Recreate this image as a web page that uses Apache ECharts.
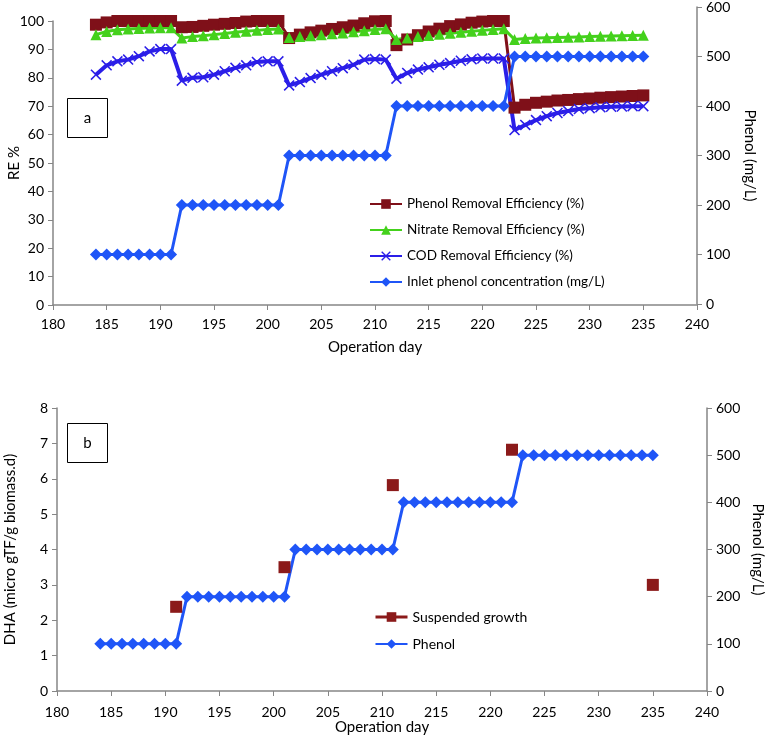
<!DOCTYPE html>
<html>
<head>
<meta charset="utf-8">
<script src="https://cdn.jsdelivr.net/npm/echarts@6/dist/echarts.min.js"></script>
<style>
  html, body { margin: 0; padding: 0; background: #fff; }
  #main { width: 767px; height: 736px; }
</style>
</head>
<body>
<div id="main"></div>
<script>
// 运行天数
var days = [184, 185, 186, 187, 188, 189, 190, 191,
    192, 193, 194, 195, 196, 197, 198, 199, 200, 201,
    202, 203, 204, 205, 206, 207, 208, 209, 210, 211,
    212, 213, 214, 215, 216, 217, 218, 219, 220, 221, 222,
    223, 224, 225, 226, 227, 228, 229, 230, 231, 232, 233, 234, 235];

// 图 a
var phenolRE = [98.7, 99.5, 100, 100, 100, 100, 100, 100,
    97.8, 97.9, 98.3, 98.7, 99.0, 99.3, 99.8, 100, 100, 100,
    94.0, 95.2, 96.0, 96.6, 97.2, 97.8, 98.4, 99.2, 99.9, 100,
    91.5, 93.5, 95.0, 96.3, 97.3, 98.2, 98.8, 99.4, 99.8, 100, 100,
    69.5, 70.5, 71.2, 71.6, 72.0, 72.2, 72.5, 72.7, 73.0, 73.2, 73.4, 73.6, 73.8];
var nitrateRE = [95.2, 96.3, 96.9, 97.2, 97.4, 97.5, 97.6, 97.6,
    94.0, 94.5, 94.8, 95.2, 95.6, 96.0, 96.4, 96.7, 97.0, 97.2,
    94.2, 94.5, 94.8, 95.2, 95.5, 95.8, 96.2, 96.6, 97.0, 97.3,
    93.5, 94.0, 94.5, 94.9, 95.3, 95.7, 96.0, 96.4, 96.7, 97.0, 97.3,
    93.5, 93.8, 94.0, 94.1, 94.2, 94.3, 94.4, 94.5, 94.6, 94.7, 94.8, 94.9, 95.0];
var codRE = [81.1, 84.4, 85.8, 86.4, 87.6, 89.3, 90.1, 90.1,
    79.0, 80.0, 80.2, 81.1, 82.3, 83.5, 84.4, 85.6, 85.8, 85.8,
    77.3, 78.5, 79.9, 81.1, 82.3, 83.4, 84.6, 86.4, 86.6, 86.4,
    79.7, 81.7, 82.9, 83.7, 84.6, 85.2, 86.0, 86.5, 86.8, 86.8, 86.8,
    61.6, 63.4, 65.1, 66.5, 67.6, 68.3, 69.0, 69.3, 69.6, 69.8, 69.9, 70.0, 70.0];
var inletPhenol = [100, 100, 100, 100, 100, 100, 100, 100,
    200, 200, 200, 200, 200, 200, 200, 200, 200, 200,
    300, 300, 300, 300, 300, 300, 300, 300, 300, 300,
    400, 400, 400, 400, 400, 400, 400, 400, 400, 400, 400,
    500, 500, 500, 500, 500, 500, 500, 500, 500, 500, 500, 500, 500];

// 图 b
var dhaDays = [191, 201, 211, 222, 235];
var dhaSuspended = [2.38, 3.5, 5.82, 6.82, 3.0];

function pairs(xs, ys) {
    return xs.map(function (x, i) { return [x, ys[i]]; });
}

var FONT = 'Lato';
var axisGray = '#868686';
var xMark = 'path://M0,1L1,0L5,4L9,0L10,1L6,5L10,9L9,10L5,6L1,10L0,9L4,5Z';

function xAx(idx, show, gap, margin) {
    return {
        type: 'value', gridIndex: idx, min: 180, max: 240, interval: 5, show: show,
        name: 'Operation day', nameLocation: 'middle', nameGap: gap, nameMoveOverlap: false,
        nameTextStyle: { color: '#000', fontSize: 15, fontFamily: FONT },
        axisLine: { lineStyle: { color: axisGray, width: 1.5 } },
        axisTick: { show: true, length: 5, lineStyle: { color: axisGray } },
        axisLabel: { color: '#000', fontSize: 14, fontFamily: FONT, margin: margin },
        splitLine: { show: false }
    };
}

function yAx(idx, pos, max, interval, name, gap, rot) {
    return {
        type: 'value', gridIndex: idx, position: pos, min: 0, max: max, interval: interval,
        name: name, nameLocation: 'middle', nameGap: gap, nameRotate: rot, nameMoveOverlap: false,
        nameTextStyle: { color: '#000', fontSize: 15, fontFamily: FONT },
        axisLine: { show: true, lineStyle: { color: axisGray, width: 1.5 } },
        axisTick: { show: true, length: 5, lineStyle: { color: axisGray } },
        axisLabel: { color: '#000', fontSize: 14, fontFamily: FONT, margin: 9 },
        splitLine: { show: false }
    };
}

var myChart = echarts.init(document.getElementById('main'));

var option = {
    animation: false,
    textStyle: { fontFamily: FONT },
    grid: [
        { left: 53, right: 70, top: 21, bottom: 431, outerBoundsMode: 'none', containLabel: false },
        { left: 57, right: 60, top: 408, bottom: 45, outerBoundsMode: 'none', containLabel: false },
        { left: 53, right: 70, top: 7, bottom: 432, outerBoundsMode: 'none', containLabel: false }
    ],
    xAxis: [xAx(0, true, 35, 12), xAx(1, true, 29, 14), xAx(2, false, 34, 12)],
    yAxis: [
        yAx(0, 'left', 100, 10, 'RE %', 31, 90),
        yAx(2, 'right', 600, 100, 'Phenol (mg/L)', 45, -90),
        yAx(1, 'left', 8, 1, 'DHA (micro gTF/g biomass.d)', 39, 90),
        yAx(1, 'right', 600, 100, 'Phenol (mg/L)', 43, -90)
    ],
    legend: [
        {
            orient: 'vertical', left: 369, top: 197, padding: 0,
            itemWidth: 32, itemHeight: 12, itemGap: 12,
            textStyle: { color: '#000', fontSize: 13.5, fontFamily: FONT },
            data: ['Phenol Removal Efficiency (%)', 'Nitrate Removal Efficiency (%)',
                'COD Removal Efficiency (%)', 'Inlet phenol concentration (mg/L)']
        },
        {
            orient: 'vertical', left: 374, top: 610, padding: 0,
            itemWidth: 32, itemHeight: 12, itemGap: 13,
            textStyle: { color: '#000', fontSize: 14, fontFamily: FONT },
            data: [
                { name: 'Suspended growth', lineStyle: { width: 3, color: '#8B1A1A', opacity: 1 } },
                'Phenol'
            ]
        }
    ],
    graphic: [
        {
            type: 'group', left: 67, top: 98,
            children: [
                { type: 'rect', shape: { x: 0, y: 0, width: 40, height: 39 },
                  style: { fill: '#fff', stroke: '#000', lineWidth: 1 } },
                { type: 'text', x: 20, y: 20,
                  style: { text: 'a', fill: '#000', font: '15px Lato', align: 'center', verticalAlign: 'middle' } }
            ]
        },
        {
            type: 'group', left: 67, top: 423,
            children: [
                { type: 'rect', shape: { x: 0, y: 0, width: 40, height: 39 },
                  style: { fill: '#fff', stroke: '#000', lineWidth: 1 } },
                { type: 'text', x: 20, y: 20,
                  style: { text: 'b', fill: '#000', font: '15px Lato', align: 'center', verticalAlign: 'middle' } }
            ]
        }
    ],
    series: [
        {
            name: 'Phenol Removal Efficiency (%)', type: 'line', xAxisIndex: 0, yAxisIndex: 0,
            data: pairs(days, phenolRE),
            symbol: 'rect', symbolSize: 12,
            lineStyle: { color: '#7F1019', width: 3 },
            itemStyle: { color: '#7F1019' }
        },
        {
            name: 'Nitrate Removal Efficiency (%)', type: 'line', xAxisIndex: 0, yAxisIndex: 0,
            data: pairs(days, nitrateRE),
            symbol: 'triangle', symbolSize: 11,
            lineStyle: { color: '#44D11C', width: 3 },
            itemStyle: { color: '#44D11C' }
        },
        {
            name: 'COD Removal Efficiency (%)', type: 'line', xAxisIndex: 0, yAxisIndex: 0,
            data: pairs(days, codRE),
            symbol: xMark, symbolSize: 11,
            lineStyle: { color: '#2B1EE8', width: 4 },
            itemStyle: { color: '#2B1EE8' }
        },
        {
            name: 'Inlet phenol concentration (mg/L)', type: 'line', xAxisIndex: 2, yAxisIndex: 1,
            data: pairs(days, inletPhenol),
            symbol: 'diamond', symbolSize: 12,
            lineStyle: { color: '#1F55F7', width: 3 },
            itemStyle: { color: '#1F55F7' }
        },
        {
            name: 'Suspended growth', type: 'line', xAxisIndex: 1, yAxisIndex: 2,
            data: pairs(dhaDays, dhaSuspended),
            symbol: 'rect', symbolSize: 12,
            lineStyle: { width: 0, color: '#8B1A1A' },
            itemStyle: { color: '#8B1A1A' }
        },
        {
            name: 'Phenol', type: 'line', xAxisIndex: 1, yAxisIndex: 3,
            data: pairs(days, inletPhenol),
            symbol: 'diamond', symbolSize: 12,
            lineStyle: { color: '#1F55F7', width: 3 },
            itemStyle: { color: '#1F55F7' }
        }
    ]
};

myChart.setOption(option);
</script>
</body>
</html>
